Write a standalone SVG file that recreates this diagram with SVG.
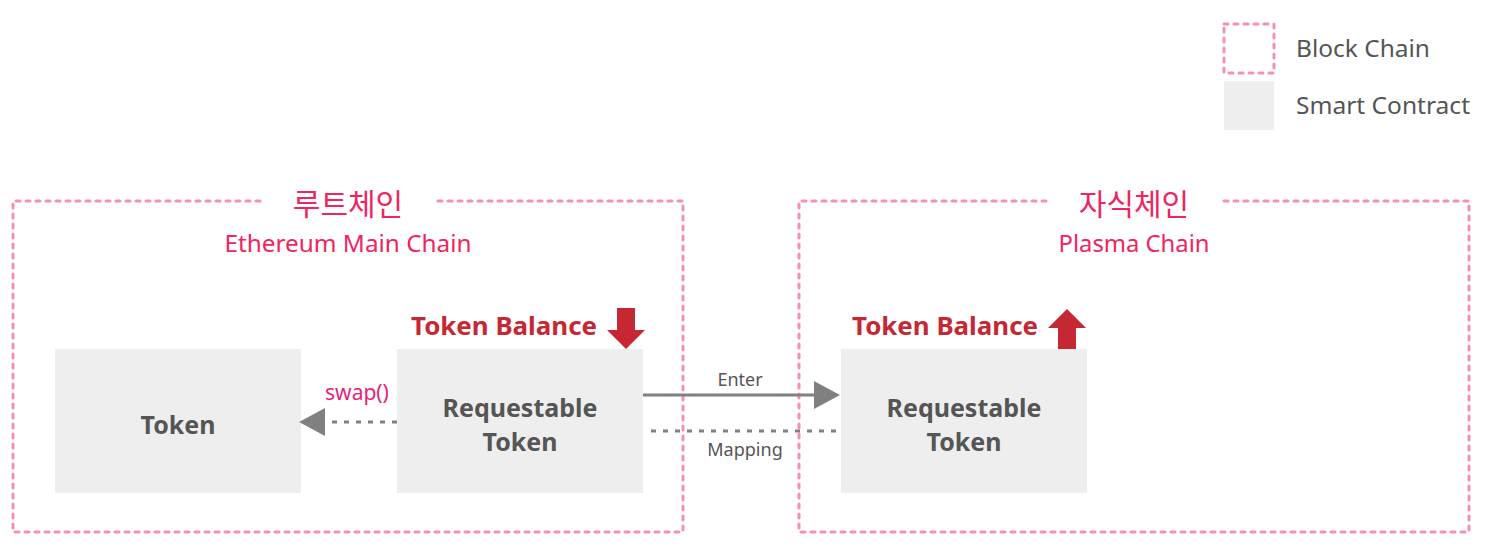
<svg xmlns="http://www.w3.org/2000/svg" width="1486" height="546" viewBox="0 0 1486 546">
<style>
.chain{fill:none;stroke:#f78fb0;stroke-width:3;stroke-dasharray:4 6;stroke-linecap:round}
.sc{fill:#eeeeee}
.node{font-family:"Noto Sans","Noto Sans CJK KR",sans-serif;font-weight:bold;font-size:25px;fill:#555555;text-anchor:middle}
.title{font-family:"Noto Sans CJK KR",sans-serif;font-size:30px;fill:#f0245f;text-anchor:middle}
.sub{font-family:"Noto Sans","Noto Sans CJK KR",sans-serif;font-size:23px;fill:#f0245f;text-anchor:middle}
.bal{font-family:"Noto Sans","Noto Sans CJK KR",sans-serif;font-weight:bold;font-size:25px;fill:#c62833}
.lbl{font-family:"Noto Sans","Noto Sans CJK KR",sans-serif;font-size:18px;fill:#555555;text-anchor:middle}
.leg{font-family:"Noto Sans","Noto Sans CJK KR",sans-serif;font-size:23px;fill:#555555}
.conn{stroke:#808080;stroke-width:3;fill:none}
.dash{stroke-dasharray:5 7}
</style>
<g id="legend">
<rect x="1224" y="24" width="50" height="49" class="chain"/>
<rect x="1224" y="81" width="50" height="49" class="sc"/>
<text x="1296" y="57" class="leg" textLength="134" lengthAdjust="spacingAndGlyphs">Block Chain</text>
<text x="1296" y="114" class="leg" textLength="174" lengthAdjust="spacingAndGlyphs">Smart Contract</text>
</g>
<g id="root-chain">
<path d="M260,201 H13 V532 H683 V201 H438" class="chain"/>
<text x="348" y="215" class="title">루트체인</text>
<text x="348" y="252" class="sub" textLength="247" lengthAdjust="spacingAndGlyphs">Ethereum Main Chain</text>
</g>
<g id="child-chain">
<path d="M1046,201 H799 V532 H1469 V201 H1224" class="chain"/>
<text x="1134" y="215" class="title">자식체인</text>
<text x="1134" y="252" class="sub" textLength="151" lengthAdjust="spacingAndGlyphs">Plasma Chain</text>
</g>
<g id="token">
<rect x="55" y="349" width="246" height="144" class="sc"/>
<text x="178" y="434" class="node">Token</text>
</g>
<g id="requestable-root">
<rect x="397" y="349" width="246" height="144" class="sc"/>
<text x="520" y="417" class="node">Requestable</text>
<text x="520" y="451" class="node">Token</text>
<text x="411" y="335" class="bal" textLength="186" lengthAdjust="spacingAndGlyphs">Token Balance</text>
<path d="M617,308 H635 V330 H645 L626,349 L607,330 H617 Z" fill="#c62833"/>
</g>
<g id="requestable-child">
<rect x="841" y="349" width="246" height="144" class="sc"/>
<text x="964" y="417" class="node">Requestable</text>
<text x="964" y="451" class="node">Token</text>
<text x="852" y="335" class="bal" textLength="186" lengthAdjust="spacingAndGlyphs">Token Balance</text>
<path d="M1058,349 H1076 V328 H1086 L1067,309 L1048,328 H1058 Z" fill="#c62833"/>
</g>
<g id="connectors">
<line x1="643" y1="395" x2="815" y2="395" class="conn"/>
<path d="M814,381 L840,395 L814,409 Z" fill="#808080"/>
<text x="740" y="386" class="lbl">Enter</text>
<line x1="651" y1="431" x2="841" y2="431" class="conn dash"/>
<text x="745" y="456" class="lbl">Mapping</text>
<line x1="397" y1="422" x2="330" y2="422" class="conn dash"/>
<path d="M325,408 L299,422 L325,436 Z" fill="#808080"/>
<text x="357" y="400" class="lbl" style="fill:#e91e78;font-size:21px">swap()</text>
</g>
</svg>
